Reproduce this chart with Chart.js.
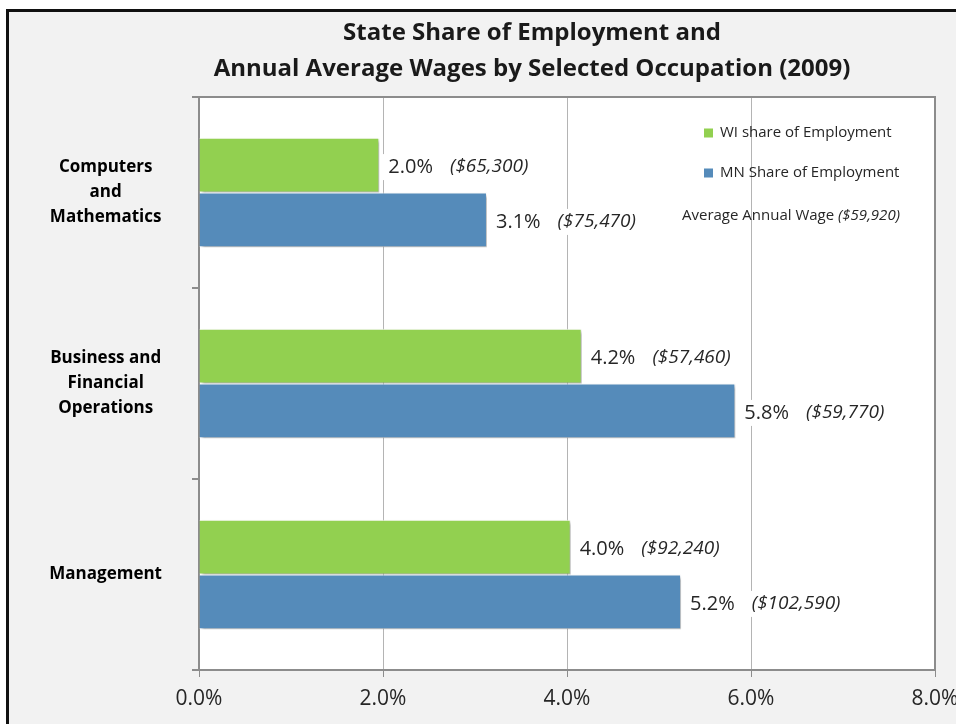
<!DOCTYPE html>
<html><head><meta charset="utf-8">
<script src="https://cdn.jsdelivr.net/npm/chart.js@4.4.0/dist/chart.umd.min.js"></script>
<style>
html,body{margin:0;padding:0;background:#fff;overflow:hidden;width:956px;height:724px;}
#frame{position:absolute;left:6px;top:9px;width:1100px;height:800px;border-left:3px solid #111;border-top:3px solid #111;background:#f2f2f2;}
#wrap{position:absolute;left:9px;top:12px;width:1046px;height:712px;}
</style></head><body>
<div id="frame"></div>
<div id="wrap"><canvas id="c" width="1046" height="712"></canvas></div>
<script>
// ---- data ----
const categories = [['Computers', 'and', 'Mathematics'], ['Business and', 'Financial', 'Operations'], ['Management']];
const wiShare = [1.96, 4.16, 4.04];
const mnShare = [3.13, 5.83, 5.24];
const wiWage = ['$65,300', '$57,460', '$92,240'];
const mnWage = ['$75,470', '$59,770', '$102,590'];
const xTicks = [0, 2, 4, 6, 8];
const avgWage = '$59,920';
const titleLines = ['State Share of Employment and', 'Annual Average Wages by Selected Occupation (2009)'];
const seriesNames = ['WI share of Employment', 'MN Share of Employment'];
const avgLabel = 'Average Annual Wage ';

const FONT = '"Open Sans", sans-serif';
const TXT = '#262626';
const GREEN = '#92d050', BLUE = '#558bba';

const decor = {
  id: 'decor',
  beforeDraw(chart) {
    const {ctx, chartArea: a} = chart;
    ctx.save();
    ctx.fillStyle = '#fff';
    ctx.fillRect(a.left, a.top, a.right - a.left, a.bottom - a.top);
    ctx.restore();
  },
  beforeDatasetsDraw(chart) {
    const ctx = chart.ctx;
    ctx.save();
    ctx.shadowColor = 'rgba(0,0,0,0.35)';
    ctx.shadowOffsetX = 2;
    ctx.shadowOffsetY = 2;
    ctx.shadowBlur = 3;
  },
  afterDatasetsDraw(chart) {
    const ctx = chart.ctx;
    ctx.restore();
    const a = chart.chartArea;
    // title
    ctx.save();
    ctx.fillStyle = '#1a1a1a';
    ctx.textAlign = 'center';
    ctx.textBaseline = 'middle';
    ctx.font = 'bold 24px ' + FONT;
    titleLines.forEach((t, i) => ctx.fillText(t, chart.width / 2, 21 + i * 36));
    ctx.restore();
    // plot border (top and right)
    ctx.save();
    ctx.strokeStyle = '#8c8c8c';
    ctx.lineWidth = 2;
    ctx.beginPath();
    ctx.moveTo(a.left, a.top);
    ctx.lineTo(a.right, a.top);
    ctx.lineTo(a.right, a.bottom);
    ctx.stroke();
    ctx.restore();
    // labels
    ctx.save();
    ctx.textBaseline = 'middle';
    ctx.textAlign = 'left';
    chart.data.datasets.forEach((ds, di) => {
      const meta = chart.getDatasetMeta(di);
      meta.data.forEach((bar, i) => {
        const pct = ds.data[i].toFixed(1) + '%';
        const wage = '(' + ds.wages[i] + ')';
        const x = bar.x + 9, y = bar.y + 2;
        ctx.font = '20px ' + FONT;
        const w1 = ctx.measureText(pct).width;
        ctx.font = 'italic 19px ' + FONT;
        const x2 = x + w1 + 17;
        const w2 = ctx.measureText(wage).width;
        ctx.fillStyle = '#fff';
        ctx.fillRect(x - 7, y - 13, w1 + 12, 26);
        ctx.fillRect(x2 - 4, y - 13, w2 + 10, 26);
        ctx.fillStyle = TXT;
        ctx.font = '20px ' + FONT;
        ctx.fillText(pct, x, y);
        ctx.font = 'italic 19px ' + FONT;
        ctx.fillText(wage, x2, y);
      });
    });
    ctx.restore();
    // legend
    ctx.save();
    ctx.textBaseline = 'middle';
    ctx.font = '15px ' + FONT;
    const colors = [GREEN, BLUE];
    const ys = [a.top + 36, a.top + 76];
    seriesNames.forEach((n, i) => {
      ctx.fillStyle = colors[i];
      ctx.fillRect(a.right - 231, ys[i] - 4.5, 9, 9);
      ctx.fillStyle = TXT;
      ctx.fillText(n, a.right - 215, ys[i]);
    });
    const y3 = a.top + 119;
    ctx.font = '15px ' + FONT;
    const lw = ctx.measureText(avgLabel).width;
    ctx.fillText(avgLabel, a.right - 253, y3);
    ctx.font = 'italic 15px ' + FONT;
    ctx.fillText('(' + avgWage + ')', a.right - 253 + lw, y3);
    ctx.restore();
  }
};

new Chart(document.getElementById('c'), {
  type: 'bar',
  data: {
    labels: categories,
    datasets: [
      {label: seriesNames[0], data: wiShare, wages: wiWage, backgroundColor: GREEN, borderColor: 'rgba(255,255,255,0.9)', borderWidth: 1},
      {label: seriesNames[1], data: mnShare, wages: mnWage, backgroundColor: BLUE, borderColor: 'rgba(255,255,255,0.9)', borderWidth: 1}
    ]
  },
  options: {
    indexAxis: 'y',
    responsive: false,
    animation: false,
    layout: {padding: {left: 0, right: 120, top: 85, bottom: 0}},
    datasets: {bar: {categoryPercentage: 0.574, barPercentage: 1}},
    plugins: {
      legend: {display: false},
      tooltip: {enabled: false},
      title: {display: false}
    },
    scales: {
      x: {
        min: 0, max: 8,
        afterBuildTicks: s => { s.ticks = xTicks.map(v => ({value: v})); },
        afterFit: s => { s.height = 54; s.paddingLeft = 0; s.paddingRight = 0; },
        ticks: {callback: v => Number(v).toFixed(1) + '%', font: {family: FONT, size: 21}, color: TXT, padding: 9},
        grid: {color: '#b4b4b4', lineWidth: 1, tickLength: 7, tickColor: '#8c8c8c'},
        border: {color: '#8c8c8c', width: 2}
      },
      y: {
        afterFit: s => { s.width = 190; s.paddingTop = 0; s.paddingBottom = 0; },
        ticks: {crossAlign: 'center', font: {family: FONT, size: 17, weight: 'bold', lineHeight: 1.47}, color: '#000', padding: 30},
        grid: {drawOnChartArea: false, tickLength: 7, color: '#8c8c8c', lineWidth: 2},
        border: {color: '#8c8c8c', width: 2}
      }
    }
  },
  plugins: [decor]
});
</script>
</body></html>
